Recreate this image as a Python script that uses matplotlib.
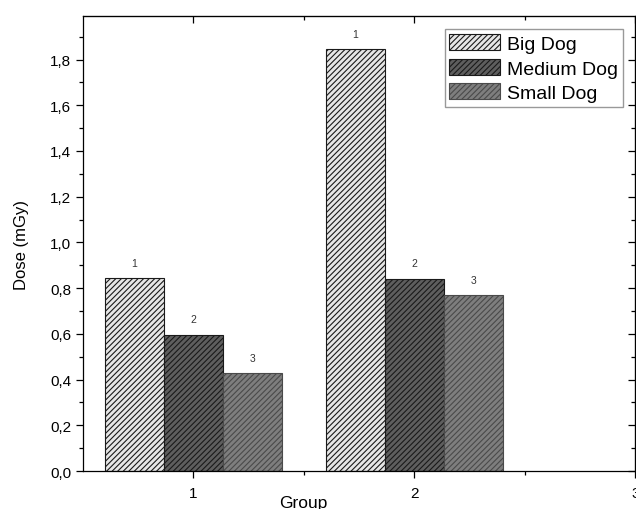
import matplotlib.pyplot as plt
from matplotlib.ticker import FuncFormatter, MultipleLocator, FixedLocator

plt.rcParams['font.family'] = ['Liberation Sans', 'DejaVu Sans']
plt.rcParams['hatch.linewidth'] = 0.8

# data
groups = [1, 2]
series = ["Big Dog", "Medium Dog", "Small Dog"]
big_dog = [0.844, 1.845]
medium_dog = [0.597, 0.841]
small_dog = [0.429, 0.768]
bar_tags = ["1", "2", "3"]

values = [big_dog, medium_dog, small_dog]
faces = ["#e6e6e6", "#5e5e5e", "#7e7e7e"]
edges = ["#1a1a1a", "#1a1a1a", "#4a4a4a"]
width = 0.268

fig = plt.figure(figsize=(6.36, 5.10), dpi=100)
ax = fig.add_axes([0.1305, 0.0745, 0.8685, 0.892])

for i, name in enumerate(series):
    xs = [g + (i - 1) * width for g in groups]
    ax.bar(xs, values[i], width=width, color=faces[i], edgecolor=edges[i],
           hatch="//////", linewidth=0.8, label=name, zorder=2)
    for x, v in zip(xs, values[i]):
        ax.text(x, v + 0.045, bar_tags[i], ha="center", va="bottom",
                fontsize=7.5, color="#333333")

ax.set_xlim(0.5, 3.0)
ax.set_ylim(0, 1.99)

ax.xaxis.set_major_locator(FixedLocator([1, 2, 3]))
ax.xaxis.set_minor_locator(FixedLocator([1.5, 2.5]))
ax.yaxis.set_major_locator(MultipleLocator(0.2))
ax.yaxis.set_minor_locator(MultipleLocator(0.1))
ax.yaxis.set_major_formatter(FuncFormatter(lambda v, p: f"{v:.1f}".replace(".", ",")))

ax.tick_params(which="major", direction="out", length=5, width=0.9, labelsize=11)
ax.tick_params(which="minor", direction="out", length=3, width=0.9)
ax.tick_params(axis="x", pad=6)

for s in ax.spines.values():
    s.set_linewidth(0.9)

# mirrored ticks on top and right, pointing inward
top = ax.secondary_xaxis("top")
top.xaxis.set_major_locator(FixedLocator([1, 2, 3]))
top.xaxis.set_minor_locator(FixedLocator([1.5, 2.5]))
top.tick_params(which="major", direction="in", length=5, width=0.9, labeltop=False)
top.tick_params(which="minor", direction="in", length=3, width=0.9)
right = ax.secondary_yaxis("right")
right.yaxis.set_major_locator(MultipleLocator(0.2))
right.yaxis.set_minor_locator(MultipleLocator(0.1))
right.tick_params(which="major", direction="in", length=5, width=0.9, labelright=False)
right.tick_params(which="minor", direction="in", length=3, width=0.9)

ax.set_ylabel("Dose (mGy)", fontsize=12)
ax.yaxis.set_label_coords(-0.098, 0.5)
ax.set_xlabel("Group", fontsize=12.5, va="top")
ax.xaxis.set_label_coords(0.398, -0.053)

ax.legend(loc="upper right", bbox_to_anchor=(0.977, 0.971), fontsize=14,
          fancybox=False, framealpha=1, edgecolor="#999999",
          handlelength=2.6, handleheight=0.9, borderpad=0.25,
          labelspacing=0.3, handletextpad=0.35, borderaxespad=0)

fig.savefig("out.png", dpi=100)
